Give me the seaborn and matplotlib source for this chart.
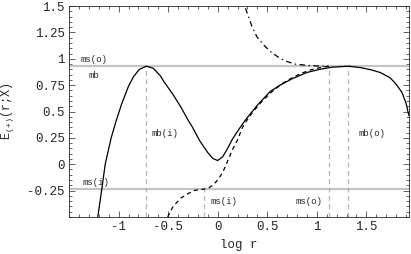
import numpy as np
import pandas as pd
import seaborn as sns
import matplotlib.pyplot as plt
from matplotlib.ticker import MultipleLocator, FixedLocator

# solid curve: marginally bound
mb_logr = [-1.21, -1.17, -1.135, -1.075, -1.025, -0.97, -0.90, -0.85, -0.79, -0.72,
           -0.65, -0.58, -0.54, -0.45, -0.37, -0.30, -0.26, -0.18, -0.10, -0.05,
           0.00, 0.05, 0.10, 0.15, 0.22, 0.28, 0.40, 0.53, 0.63, 0.75,
           0.90, 1.03, 1.15, 1.32, 1.45, 1.55, 1.64, 1.74, 1.80, 1.86, 1.90, 1.93]
mb_E = [-0.50, -0.24, 0.00, 0.25, 0.41, 0.57, 0.74, 0.83, 0.90, 0.93,
        0.91, 0.84, 0.78, 0.66, 0.54, 0.42, 0.36, 0.22, 0.11, 0.055,
        0.035, 0.07, 0.15, 0.24, 0.34, 0.42, 0.56, 0.69, 0.75, 0.81,
        0.87, 0.90, 0.92, 0.93, 0.915, 0.895, 0.87, 0.82, 0.76, 0.68, 0.58, 0.46]

# dashed curve: marginally stable branch
ms_logr = [-0.505, -0.45, -0.37, -0.30, -0.24, -0.18, -0.14, -0.10, -0.05, 0.00,
           0.05, 0.10, 0.15, 0.20, 0.25, 0.29, 0.35, 0.45, 0.55, 0.65,
           0.75, 0.85, 0.95, 1.05, 1.12]
ms_E = [-0.50, -0.40, -0.32, -0.28, -0.25, -0.24, -0.236, -0.23, -0.20, -0.15,
        -0.08, 0.03, 0.14, 0.23, 0.35, 0.41, 0.49, 0.60, 0.69, 0.765,
        0.82, 0.865, 0.898, 0.92, 0.93]

# dash-dot curve: other branch
dd_logr = [0.28, 0.345, 0.395, 0.46, 0.53, 0.62, 0.68, 0.78, 0.93, 1.12]
dd_E = [1.48, 1.31, 1.21, 1.136, 1.07, 1.01, 0.98, 0.95, 0.935, 0.928]

# reference levels
hline_E = [0.93, -0.236]
vline_logr = [-0.72, -0.14, 1.12, 1.32]
vline_top = [0.93, -0.236, 0.93, 0.93]

xtick_vals = [-1, -0.5, 0, 0.5, 1, 1.5]
xtick_labels = ["-1", "-0.5", "0", "0.5", "1", "1.5"]
ytick_vals = [-0.25, 0, 0.25, 0.5, 0.75, 1, 1.25, 1.5]
ytick_labels = ["-0.25", "0", "0.25", "0.5", "0.75", "1", "1.25", "1.5"]

sns.set_style("ticks")
plt.rcParams["font.family"] = ["Liberation Mono", "DejaVu Sans"]
plt.rcParams["mathtext.default"] = "regular"
plt.rcParams["lines.scale_dashes"] = False

fig = plt.figure(figsize=(4.11, 2.54), dpi=100)
ax = fig.add_axes([0.168, 0.146, 0.827, 0.830])

for y in hline_E:
    ax.axhline(y, color="#c4c4c4", lw=1.6, zorder=1)
ax.vlines(vline_logr, -0.5, vline_top, colors="#b4b4b4", lw=0.9,
          linestyles=(0, (3.5, 2.5)), zorder=1)

mb_df = pd.DataFrame({"logr": mb_logr, "E": mb_E})
ms_df = pd.DataFrame({"logr": ms_logr, "E": ms_E})
dd_df = pd.DataFrame({"logr": dd_logr, "E": dd_E})

sns.lineplot(data=mb_df, x="logr", y="E", sort=False, color="black", lw=0.9, ax=ax)
sns.lineplot(data=ms_df, x="logr", y="E", sort=False, color="black", lw=0.9,
             linestyle=(0, (3, 2.5)), ax=ax)
sns.lineplot(data=dd_df, x="logr", y="E", sort=False, color="black", lw=0.9,
             linestyle=(0, (4, 2.5, 1, 2.5)), ax=ax)

ax.set_xlim(-1.5, 1.93)
ax.set_ylim(-0.5, 1.5)

ax.xaxis.set_major_locator(FixedLocator(xtick_vals))
ax.set_xticklabels(xtick_labels)
ax.yaxis.set_major_locator(FixedLocator(ytick_vals))
ax.set_yticklabels(ytick_labels)
ax.xaxis.set_minor_locator(MultipleLocator(0.1))
ax.yaxis.set_minor_locator(MultipleLocator(0.05))
ax.tick_params(which="both", direction="in", top=True, right=True,
               width=0.5, labelsize=9, pad=3)
ax.tick_params(which="major", length=4)
ax.tick_params(which="minor", length=2)
for s in ax.spines.values():
    s.set_linewidth(0.6)

ax.set_xlabel("log r", fontsize=9, labelpad=4)
ax.set_ylabel("E$_{(+)}$(r;X)", fontsize=8.5, labelpad=8)

fs = 6.5
ax.text(-1.25, 0.99, "ms(o)", fontsize=fs, ha="center", va="center")
ax.text(-1.25, 0.845, "mb", fontsize=fs, ha="center", va="center")
ax.text(-0.67, 0.29, "mb(i)", fontsize=fs, ha="left", va="center")
ax.text(-1.36, -0.17, "ms(i)", fontsize=fs, ha="left", va="center")
ax.text(-0.07, -0.35, "ms(i)", fontsize=fs, ha="left", va="center")
ax.text(1.06, -0.35, "ms(o)", fontsize=fs, ha="right", va="center")
ax.text(1.42, 0.29, "mb(o)", fontsize=fs, ha="left", va="center")

fig.savefig("out.png", dpi=100)
